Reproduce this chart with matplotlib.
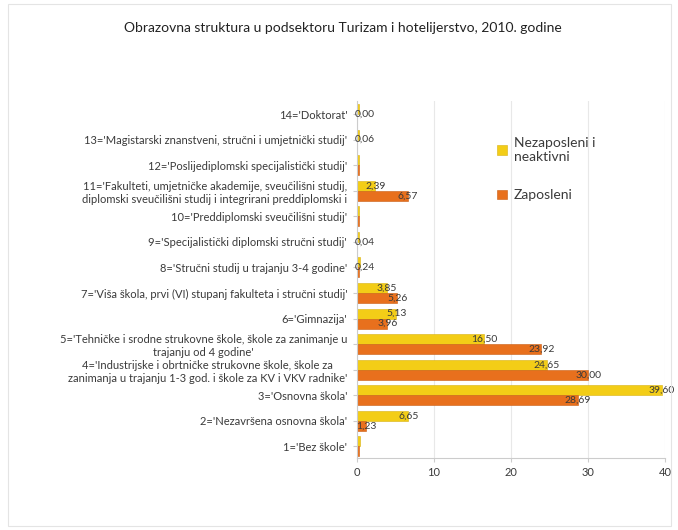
import numpy as np
import matplotlib.pyplot as plt
from matplotlib.patches import Rectangle

# categories from bottom (1) to top (14)
categories = [
    "1='Bez škole'",
    "2='Nezavršena osnovna škola'",
    "3='Osnovna škola'",
    "4='Industrijske i obrtničke strukovne škole, škole za\nzanimanja u trajanju 1-3 god. i škole za KV i VKV radnike'",
    "5='Tehničke i srodne strukovne škole, škole za zanimanje u\ntrajanju od 4 godine'",
    "6='Gimnazija'",
    "7='Viša škola, prvi (VI) stupanj fakulteta i stručni studij'",
    "8='Stručni studij u trajanju 3-4 godine'",
    "9='Specijalistički diplomski stručni studij'",
    "10='Preddiplomski sveučilišni studij'",
    "11='Fakulteti, umjetničke akademije, sveučilišni studij,\ndiplomski sveučilišni studij i integrirani preddiplomski i",
    "12='Poslijediplomski specijalistički studij'",
    "13='Magistarski znanstveni, stručni i umjetnički studij'",
    "14='Doktorat'",
]
nezaposleni = [0.35, 6.65, 39.60, 24.65, 16.50, 5.13, 3.85, 0.45, 0.25, 0.25, 2.39, 0.25, 0.25, 0.25]
zaposleni = [0.30, 1.23, 28.69, 30.00, 23.92, 3.96, 5.26, 0.24, 0.04, 0.25, 6.57, 0.25, 0.06, 0.00]
# which orange labels are shown for the tiny rows
small_orange_labels = {8, 9, 13, 14}

yellow = '#F3CD17'
orange = '#E8701D'
txt = '#3a3a3a'

plt.rcParams['font.family'] = ['Lato', 'DejaVu Sans']

fig = plt.figure(figsize=(6.78, 5.30), dpi=100)
fig.patches.append(Rectangle((0.012, 0.008), 0.978, 0.985, transform=fig.transFigure,
                             fill=False, edgecolor='#e4e4e4', lw=0.8))
ax = fig.add_axes([0.5265, 0.136, 0.4545, 0.673])

y = np.arange(1, len(categories) + 1)
h = 0.39
ax.barh(y + h / 2, nezaposleni, height=h, color=yellow, edgecolor='#d9b210', lw=0.4,
        label='Nezaposleni i\nneaktivni')
ax.barh(y - h / 2, zaposleni, height=h, color=orange, edgecolor='#c95c12', lw=0.4,
        label='Zaposleni')

for i, (a, b) in enumerate(zip(nezaposleni, zaposleni)):
    row = i + 1
    if a >= 1:
        ax.text(a, row + h / 2, f'{a:.2f}'.replace('.', ','), ha='center', va='center',
                fontsize=7.5, color=txt)
    if b >= 1 or row in small_orange_labels:
        ax.text(max(b, 1.0), row - h / 2 + (0.2 if b < 1 else 0), f'{b:.2f}'.replace('.', ','),
                ha='center', va='center', fontsize=7.5, color=txt)

ax.set_xlim(0, 40)
ax.set_ylim(0.55, 14.5)
ax.set_xticks([0, 10, 20, 30, 40])
ax.set_yticks(y)
ax.set_yticklabels(categories, fontsize=8, color=txt, multialignment='center')
ax.tick_params(axis='x', labelsize=8, colors=txt, length=3, color='#cccccc')
ax.tick_params(axis='y', length=3, color='#cccccc', pad=4)
ax.xaxis.grid(True, color='#e8e8e8', lw=0.8)
ax.set_axisbelow(True)
for s in ['top', 'right']:
    ax.spines[s].set_visible(False)
ax.spines['left'].set_color('#cccccc')
ax.spines['bottom'].set_color('#cccccc')

fig.legend(loc='upper left', bbox_to_anchor=(0.715, 0.765), frameon=False, fontsize=10,
           handlelength=0.7, handleheight=0.7, handletextpad=0.5, labelspacing=1.9,
           labelcolor=txt)

fig.text(0.505, 0.948, 'Obrazovna struktura u podsektoru Turizam i hotelijerstvo, 2010. godine',
         ha='center', va='center', fontsize=10, color='#222222')

fig.savefig('out.png', dpi=100)
